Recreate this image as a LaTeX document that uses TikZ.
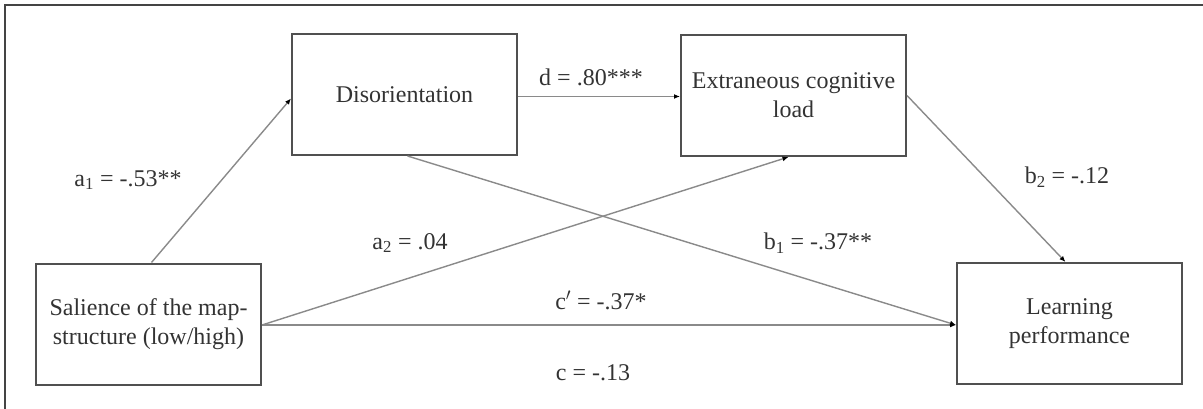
\documentclass[tikz,border=0pt]{standalone}
\usepackage{fontspec}
\setmainfont{Liberation Serif}
\usetikzlibrary{arrows.meta,calc}
\definecolor{boxcol}{HTML}{505050}
\definecolor{linecol}{HTML}{8A8A8A}
\definecolor{txtcol}{HTML}{333333}
\definecolor{framecol}{HTML}{444444}
\tikzset{
  varbox/.style={draw=boxcol, line width=2pt, rectangle, minimum width=225pt, minimum height=121pt,
    align=center, text=txtcol, font=\fontsize{24}{29}\selectfont, inner sep=0pt},
  conn/.style={draw=linecol, line width=1.4pt, -{Latex[length=6pt,width=5pt,color=black]}},
  lbl/.style={text=txtcol, font=\fontsize{24}{29}\selectfont, inner sep=0pt}
}
\begin{document}
\begin{tikzpicture}[x=1pt,y=-1pt]
\useasboundingbox (0,0) rectangle (1203,409);
\draw[framecol, line width=1.8pt] (5,409) -- (5,5) -- (1203,5);

\node[varbox] (dis) at (404.5,94.5) {Disorientation};
\node[varbox] (ext) at (793.5,95.5) {Extraneous cognitive\\load};
\node[varbox] (sal) at (148.5,324) {Salience of the map-\\structure (low/high)};
\node[varbox] (lrn) at (1069.5,323.5) {Learning\\performance};

\draw[conn] ([xshift=3pt]sal.north) -- ([yshift=-4pt]dis.west);
\draw[conn] ([yshift=-2pt]dis.east) -- ([yshift=-2pt]dis.east -| ext.west);
\draw[conn] ([yshift=-1pt]sal.east) -- ([xshift=-5pt]ext.south);
\draw[conn] ([yshift=-1pt]sal.east) -- ([yshift=-1pt]sal.east -| lrn.west);
\draw[conn] ([xshift=3pt]dis.south) -- ([yshift=-1.5pt]lrn.west);
\draw[conn] (ext.east) -- ([xshift=-4pt]lrn.north);

\node[lbl] (la1) at (128,180) {a\textsubscript{1} = -.53**};
\node[lbl] (ld) at (591,77) {d = .80***};
\node[lbl] (lb2) at (1067,177) {b\textsubscript{2} = -.12};
\node[lbl] (la2) at (410,243) {a\textsubscript{2} = .04};
\node[lbl] (lb1) at (818,243) {b\textsubscript{1} = -.37**};
\node[lbl] (lcp) at (601,300) {c$'$ = -.37*};
\node[lbl] (lc) at (593,373) {c = -.13};
\end{tikzpicture}
\end{document}
